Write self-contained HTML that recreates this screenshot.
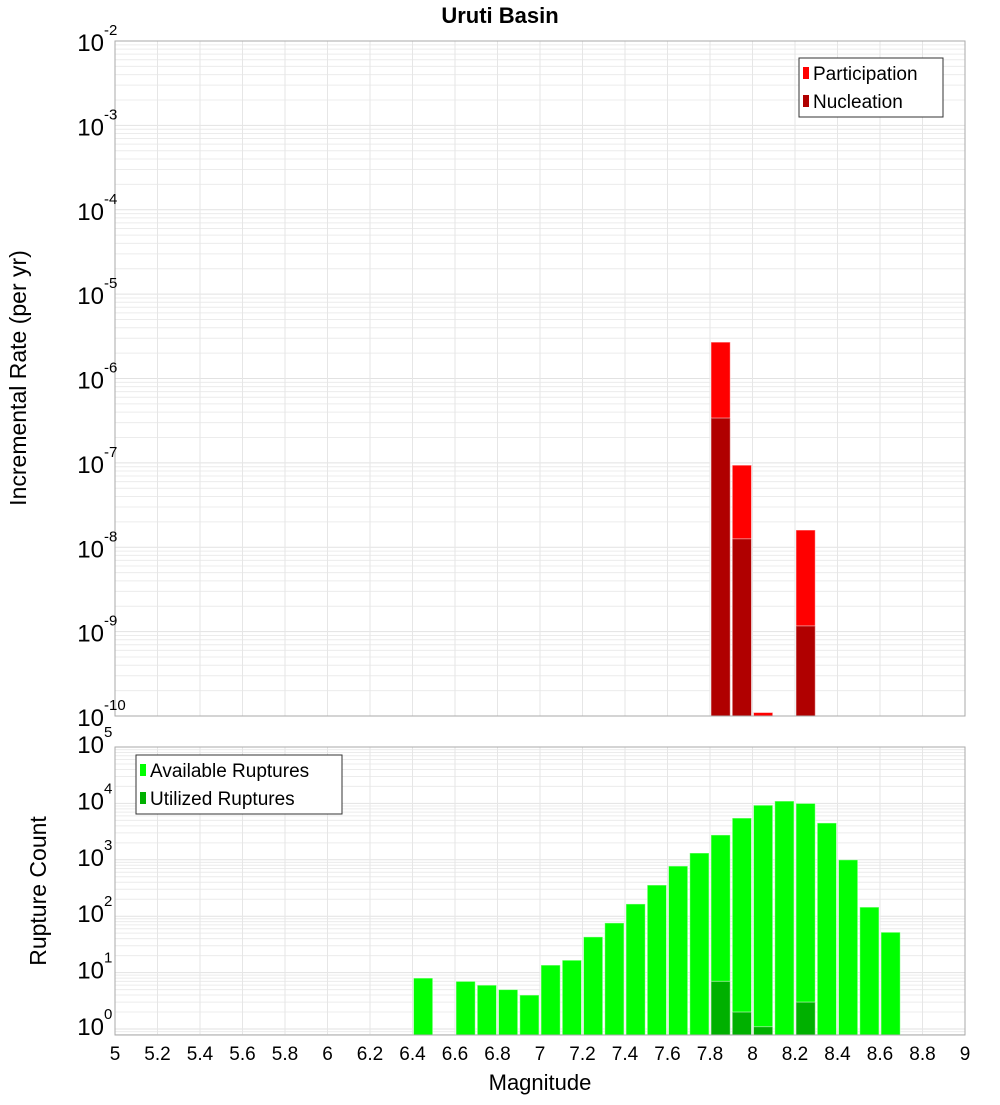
<!DOCTYPE html>
<html><head><meta charset="utf-8"><style>
body{margin:0;background:#fff;}
svg{font-family:"Liberation Sans","DejaVu Sans",sans-serif;}
</style></head><body>
<svg id="c" width="1000" height="1100" xmlns="http://www.w3.org/2000/svg">
<text x="500" y="23" text-anchor="middle" font-size="22" font-weight="bold">Uruti Basin</text>
<text transform="translate(26,378) rotate(-90)" text-anchor="middle" font-size="23">Incremental Rate (per yr)</text>
<text transform="translate(46,891) rotate(-90)" text-anchor="middle" font-size="23">Rupture Count</text>
<text x="540" y="1090" text-anchor="middle" font-size="22">Magnitude</text>
<g id="g"></g>
</svg>
<script>
const binStarts=[6.4,6.6,6.7,6.8,6.9,7.0,7.1,7.2,7.3,7.4,7.5,7.6,7.7,7.8,7.9,8.0,8.1,8.2,8.3,8.4,8.5,8.6];
const available=[8,7,6,5,4,13.6,16.6,43,76,165,357,775,1320,2760,5500,9300,11000,10000,4500,1000,145,52];
const utilBins=[7.8,7.9,8.0,8.2];
const utilized=[7,2,1.1,3];
const rateBins=[7.8,7.9,8.0,8.2];
const participation=[2.7e-6,9.4e-8,1.1e-10,1.6e-8];
const nucleation=[3.4e-7,1.26e-8,0,1.17e-9];
const xTicks=[5,5.2,5.4,5.6,5.8,6,6.2,6.4,6.6,6.8,7,7.2,7.4,7.6,7.8,8,8.2,8.4,8.6,8.8,9];
const xTickLabels=["5","5.2","5.4","5.6","5.8","6","6.2","6.4","6.6","6.8","7","7.2","7.4","7.6","7.8","8","8.2","8.4","8.6","8.8","9"];
const topExps=[-2,-3,-4,-5,-6,-7,-8,-9,-10];
const botExps=[5,4,3,2,1,0];

const NS="http://www.w3.org/2000/svg";
const g=document.getElementById('g');
function el(t,a,p){const e=document.createElementNS(NS,t);for(const k in a)e.setAttribute(k,a[k]);(p||g).appendChild(e);return e;}
const X0=115,X1=965;
const x=m=>X0+(m-5)/4*(X1-X0);
const topT=41,topB=716;
const yTop=v=>topT+(-2-Math.log10(v))*(topB-topT)/8;
const botT=747,dec=56.4,botB=1035;
const yBot=v=>botT+(5-Math.log10(v))*dec;

function panel(T,B,yf,lo,hi,name){
  const bg=el('rect',{x:X0,y:T,width:X1-X0,height:B-T,fill:'#fff'});
  
  
  for(let e=lo;e<hi;e++)for(let k=1;k<10;k++){const yy=yf(k*Math.pow(10,e));if(yy<T||yy>B)continue;
    const l=el('line',{x1:X0,x2:X1,y1:yy,y2:yy,stroke:k==1?'#e2e2e2':'#ececec','stroke-width':1});
    }
  xTicks.forEach(t=>{const l=el('line',{x1:x(t),x2:x(t),y1:T,y2:B,stroke:'#e6e6e6'});
    });
}
panel(topT,topB,yTop,-10,-2,'top');
panel(botT,botB,yBot,-1,5,'bottom');

function bar(m,v,base,yf,fill,name){
  if(!v)return;const y=yf(v);
  const r=el('rect',{x:x(m)+1,y:y,width:x(m+0.1)-x(m)-2,height:base-y,fill:fill,stroke:'rgba(255,255,255,0.5)','stroke-width':1});
  
}
rateBins.forEach((m,i)=>bar(m,participation[i],topB,yTop,'#ff0000','participation-bar'));
rateBins.forEach((m,i)=>bar(m,nucleation[i],topB,yTop,'#b00000','nucleation-bar'));
binStarts.forEach((m,i)=>bar(m,available[i],botB,yBot,'#00ff00','available-bar'));
utilBins.forEach((m,i)=>bar(m,utilized[i],botB,yBot,'#00b000','utilized-bar'));

[[topT,topB],[botT,botB]].forEach(([T,B])=>{const f=el('rect',{x:X0,y:T,width:X1-X0,height:B-T,fill:'none',stroke:'#aaa'});
  });

function ylab(e,yy,name){
  const t=el('text',{x:104,y:yy+10,'text-anchor':'end','font-size':24});
  
  t.textContent='10';
  const s=el('text',{x:104,y:yy-6,'font-size':15});
  
  s.textContent=String(e);
}
topExps.forEach(e=>ylab(e,yTop(Math.pow(10,e)),'top-y-tick-label'));
botExps.forEach(e=>ylab(e,yBot(Math.pow(10,e))-4,'bottom-y-tick-label'));
xTicks.forEach((t,i)=>{const tx=el('text',{x:x(t),y:1060,'text-anchor':'middle','font-size':19});
  tx.textContent=xTickLabels[i];});

function legend(bx,by,w,items,name){
  const lg=el('g',{});
  el('rect',{x:bx,y:by,width:w,height:59,fill:'#fff',stroke:'#333'},lg);
  items.forEach((it,i)=>{
    el('rect',{x:bx+4,y:by+9+i*28,width:6,height:12,fill:it[1]},lg);
    const t=el('text',{x:bx+14,y:by+22+i*28,'font-size':19},lg);
    t.textContent=it[0];
  });
}
legend(799,58,144,[['Participation','#ff0000'],['Nucleation','#b00000']],'top-legend');
legend(136,755,206,[['Available Ruptures','#00ff00'],['Utilized Ruptures','#00b000']],'bottom-legend');
</script>
</body></html>
